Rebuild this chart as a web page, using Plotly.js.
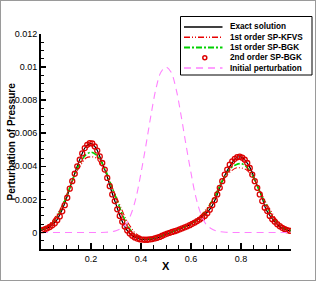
<!DOCTYPE html>
<html>
<head>
<meta charset="utf-8">
<script src="https://cdn.plot.ly/plotly-3.0.1.min.js"></script>
<style>
html,body{margin:0;padding:0;background:#fff;}
#chart{width:314px;height:279px;border:1px solid #9a9a9a;}
</style>
</head>
<body>
<div id="chart"></div>
<script>
// ---------- data ----------
const seriesNames = ["Exact solution", "1st order SP-KFVS", "1st order SP-BGK", "2nd order SP-BGK", "Initial perturbation"];
const xTitle = "X";
const yTitle = "Perturbation of Pressure";

const xGrid = [0.00,0.02,0.04,0.06,0.08,0.10,0.12,0.14,0.16,0.18,0.20,0.22,0.24,0.26,0.28,0.30,0.32,0.34,0.36,0.38,0.40,0.42,0.44,0.46,0.48,0.50,0.52,0.54,0.56,0.58,0.60,0.62,0.64,0.66,0.68,0.70,0.72,0.74,0.76,0.78,0.80,0.82,0.84,0.86,0.88,0.90,0.92,0.94,0.96,0.98,1.00];

const exactSolution = [0.00012,0.00022,0.0004,0.00068,0.00122,0.00198,0.0029,0.0038,0.0046,0.0052,0.00538,0.0051,0.0044,0.0036,0.0026,0.0017,0.00085,0.00022,-0.00012,-0.00032,-0.00042,-0.00044,-0.00042,-0.00034,-0.00024,-0.0001,0.0,0.00011,0.00022,0.00036,0.00052,0.00072,0.00092,0.00115,0.0015,0.0021,0.0029,0.0036,0.0041,0.0045,0.00457,0.0043,0.0038,0.003,0.0023,0.0014,0.00092,0.00057,0.0003,0.00016,0.0001];

const kfvsFirst = [0.00022,0.00037,0.0006,0.001,0.0015,0.0022,0.0029,0.0036,0.0041,0.0045,0.00457,0.0045,0.0041,0.0036,0.0029,0.0022,0.0015,0.0008,0.0003,-0.00008,-0.00025,-0.00032,-0.00032,-0.00027,-0.00018,-0.00007,0.00004,0.00015,0.00027,0.0004,0.00056,0.00077,0.00105,0.0014,0.0018,0.0024,0.0029,0.0034,0.0037,0.0039,0.0039,0.0038,0.0035,0.003,0.0024,0.0018,0.0013,0.0008,0.0005,0.0003,0.00018];

const bgkFirst = [0.00018,0.0003,0.0005,0.00085,0.0014,0.0021,0.0029,0.0037,0.0043,0.0047,0.00485,0.0047,0.0043,0.0037,0.0029,0.0021,0.0013,0.0006,0.0001,-0.0002,-0.00033,-0.00037,-0.00036,-0.0003,-0.0002,-0.00008,0.00003,0.00014,0.00026,0.00038,0.00053,0.00072,0.00097,0.0013,0.0018,0.0023,0.003,0.0035,0.0039,0.0041,0.00416,0.004,0.0036,0.003,0.0023,0.0017,0.0011,0.0007,0.0004,0.00022,0.00013];

const initialPerturbation = [0,0,0,0,0,0,0,0,0,0,0,0,0,0.00001,0.00004,0.0001,0.00024,0.0005,0.0011,0.0021,0.0036,0.0053,0.0071,0.0087,0.0097,0.01,0.0097,0.0087,0.0071,0.0053,0.0036,0.0021,0.0011,0.0005,0.00024,0.0001,0.00004,0.00001,0,0,0,0,0,0,0,0,0,0,0,0,0];

const xCells = [0.005,0.015,0.025,0.035,0.045,0.055,0.065,0.075,0.085,0.095,0.105,0.115,0.125,0.135,0.145,0.155,0.165,0.175,0.185,0.195,0.205,0.215,0.225,0.235,0.245,0.255,0.265,0.275,0.285,0.295,0.305,0.315,0.325,0.335,0.345,0.355,0.365,0.375,0.385,0.395,0.405,0.415,0.425,0.435,0.445,0.455,0.465,0.475,0.485,0.495,0.505,0.515,0.525,0.535,0.545,0.555,0.565,0.575,0.585,0.595,0.605,0.615,0.625,0.635,0.645,0.655,0.665,0.675,0.685,0.695,0.705,0.715,0.725,0.735,0.745,0.755,0.765,0.775,0.785,0.795,0.805,0.815,0.825,0.835,0.845,0.855,0.865,0.875,0.885,0.895,0.905,0.915,0.925,0.935,0.945,0.955,0.965,0.975,0.985,0.995];

const bgkSecond = [0.00014,0.00019,0.00025,0.00033,0.00043,0.00055,0.00074,0.00097,0.00128,0.00165,0.0021,0.00265,0.0031,0.00355,0.004,0.0044,0.00478,0.0051,0.0053,0.0054,0.00538,0.0052,0.00495,0.0046,0.0042,0.0038,0.0033,0.0028,0.0023,0.0019,0.0014,0.001,0.00065,0.00036,0.00012,-0.00006,-0.0002,-0.0003,-0.00037,-0.00041,-0.00043,-0.00044,-0.00044,-0.00042,-0.0004,-0.00036,-0.00032,-0.00027,-0.0002,-0.00013,-0.00007,-0.00002,0.00003,0.00008,0.00013,0.00019,0.00025,0.00031,0.00037,0.00044,0.00052,0.0006,0.00069,0.00078,0.00088,0.001,0.00116,0.00138,0.00165,0.00195,0.0023,0.0027,0.0031,0.0035,0.0038,0.0041,0.0043,0.00445,0.00455,0.00458,0.00452,0.0044,0.0042,0.0039,0.0035,0.0031,0.0027,0.0023,0.0019,0.0015,0.0013,0.001,0.0008,0.00065,0.0005,0.00038,0.00028,0.0002,0.00014,0.0001];

const xTickVals = [0.2, 0.4, 0.6, 0.8];
const xTickText = ["0.2", "0.4", "0.6", "0.8"];
const yTickVals = [0, 0.002, 0.004, 0.006, 0.008, 0.01, 0.012];
const yTickText = ["0", "0.002", "0.004", "0.006", "0.008", "0.01", "0.012"];

// ---------- styles ----------
const FONT = "'Liberation Sans', Arial, Helvetica, sans-serif";
const styles = [
  {color: "#000000", dash: "solid", width: 1.2},
  {color: "#e80000", dash: "6px,2px,1px,2px,1px,2px", width: 1.1},
  {color: "#00d000", dash: "6px,2px,2px,2px", width: 1.6},
  {color: "#dd0000", marker: true},
  {color: "#ff80ff", dash: "7px,5px", width: 1.1}
];

const traces = [
  {x: xGrid, y: exactSolution, mode: "lines", line: {color: styles[0].color, width: styles[0].width, shape: "spline"}},
  {x: xGrid, y: kfvsFirst, mode: "lines", line: {color: styles[1].color, width: styles[1].width, dash: styles[1].dash, shape: "spline"}},
  {x: xGrid, y: bgkFirst, mode: "lines", line: {color: styles[2].color, width: styles[2].width, dash: styles[2].dash, shape: "spline"}},
  {x: xCells, y: bgkSecond, mode: "markers", marker: {symbol: "circle-open", size: 5, color: styles[3].color, line: {width: 1.3, color: styles[3].color}}},
  {x: xGrid, y: initialPerturbation, mode: "lines", line: {color: styles[4].color, width: styles[4].width, dash: styles[4].dash, shape: "spline"}}
].map((t, i) => Object.assign(t, {name: seriesNames[i], showlegend: false, hoverinfo: "skip"}));

// ---------- manual legend and titles (pixel layout -> paper coords) ----------
const PL = 41, PW = 250, PB = 249, PH = 215;
const px = p => (p - PL) / PW;
const py = p => (PB - p) / PH;

const shapes = [{
  type: "rect", xref: "paper", yref: "paper",
  x0: px(180.5), x1: px(312), y0: py(75), y1: py(16.5),
  line: {color: "#000", width: 1}, fillcolor: "#fff", layer: "above"
}];
const annotations = [];
seriesNames.forEach((name, i) => {
  const rowY = 27 + i * 10.25;
  const st = styles[i];
  if (st.marker) {
    shapes.push({type: "circle", xref: "paper", yref: "paper",
      x0: px(202.8), x1: px(206.8), y0: py(rowY + 2), y1: py(rowY - 2),
      line: {color: st.color, width: 1.5}, layer: "above"});
  } else {
    shapes.push({type: "line", xref: "paper", yref: "paper",
      x0: px(184), x1: px(222.5), y0: py(rowY), y1: py(rowY),
      line: {color: st.color, width: st.width + 0.2, dash: st.dash}, layer: "above"});
  }
  annotations.push({xref: "paper", yref: "paper", x: px(227.5), y: py(rowY),
    xanchor: "left", yanchor: "middle", showarrow: false, text: "<b>" + name + "</b>",
    font: {family: FONT, size: 8.2, color: "#000"}});
});
annotations.push({xref: "paper", yref: "paper", x: px(10.5), y: py(142), textangle: -90,
  xanchor: "center", yanchor: "middle", showarrow: false, text: "<b>" + yTitle + "</b>",
  font: {family: FONT, size: 10, color: "#000"}});
annotations.push({xref: "paper", yref: "paper", x: px(166), y: py(265.5),
  xanchor: "center", yanchor: "middle", showarrow: false, text: "<b>" + xTitle + "</b>",
  font: {family: FONT, size: 11, color: "#000"}});

const layout = {
  width: 314, height: 279,
  margin: {l: 40, r: 24, t: 33, b: 31, pad: 0},
  paper_bgcolor: "#fff", plot_bgcolor: "#fff",
  font: {family: FONT, size: 9, color: "#000"},
  showlegend: false,
  xaxis: {
    range: [0, 1], tickmode: "array", tickvals: xTickVals, ticktext: xTickText,
    ticks: "inside", ticklen: 6, tickwidth: 1.5, tickcolor: "#000",
    showline: true, linecolor: "#000", linewidth: 2, mirror: false,
    showgrid: false, zeroline: false,
    tickfont: {family: FONT, size: 9, color: "#000"},
    minor: {tickmode: "linear", tick0: 0, dtick: 0.05, ticks: "inside", ticklen: 4, tickwidth: 1, tickcolor: "#000", showgrid: false}
  },
  yaxis: {
    range: [-0.001, 0.012], tickmode: "array", tickvals: yTickVals, ticktext: yTickText,
    ticks: "inside", ticklen: 5, tickwidth: 1.5, tickcolor: "#000",
    showline: true, linecolor: "#000", linewidth: 2, mirror: false,
    showgrid: false, zeroline: false,
    tickfont: {family: FONT, size: 9, color: "#000"},
    minor: {tickmode: "linear", tick0: 0, dtick: 0.0005, ticks: "inside", ticklen: 3, tickwidth: 1, tickcolor: "#000", showgrid: false}
  },
  shapes: shapes,
  annotations: annotations
};

Plotly.newPlot("chart", traces, layout, {displayModeBar: false, staticPlot: true});
</script>
</body>
</html>
